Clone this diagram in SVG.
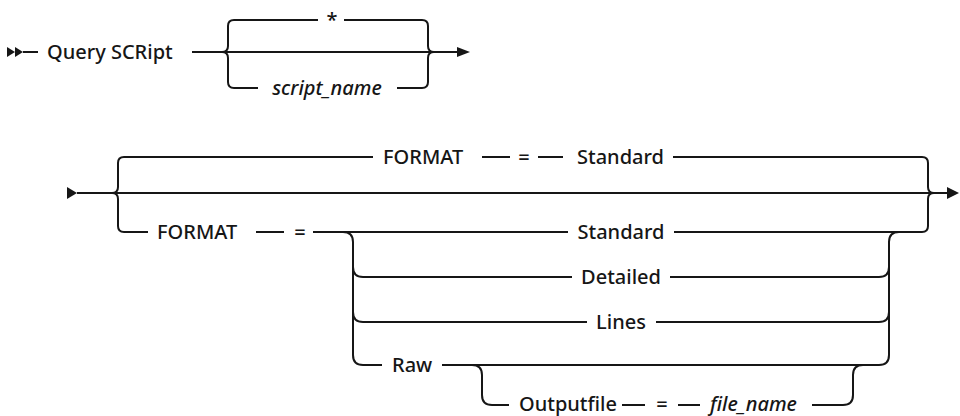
<svg xmlns="http://www.w3.org/2000/svg" width="960" height="416" viewBox="0 0 960 416">
<style>
.t { font-family: "Noto Sans", "Liberation Sans", sans-serif; font-size: 20px; font-weight: 500; fill: #161616; }
.i { font-style: italic; }
.c { text-anchor: middle; }
.ln { fill: none; stroke: #161616; stroke-width: 2; }
.ah { fill: #161616; stroke: none; }
</style>
<rect width="960" height="416" fill="#ffffff"/>
<g id="connectors">
  <!-- row 1 -->
  <polygon class="ah" points="7,47 15,52 7,57"/>
  <polygon class="ah" points="15,47 23,52 15,57"/>
  <path class="ln" d="M23,52 H38"/>
  <path class="ln" d="M192,52 H458"/>
  <path class="ln" d="M222,52 q6,0 6,-6 V26 q0,-6 6,-6 H318"/>
  <path class="ln" d="M344,20 H422 q6,0 6,6 V46 q0,6 6,6"/>
  <path class="ln" d="M222,52 q6,0 6,6 V82 q0,6 6,6 H258"/>
  <path class="ln" d="M397,88 H422 q6,0 6,-6 V58 q0,-6 6,-6"/>
  <polygon class="ah" points="457,47 470,52 457,57"/>
  <!-- row 2 -->
  <polygon class="ah" points="67,187 77,193 67,199"/>
  <path class="ln" d="M77,193 H948"/>
  <polygon class="ah" points="947,187 959,193 947,199"/>
  <path class="ln" d="M112,193 q6,0 6,-6 V163 q0,-6 6,-6 H373"/>
  <path class="ln" d="M112,193 q6,0 6,6 V226 q0,6 6,6 H148"/>
  <path class="ln" d="M482,157 H510 M538,157 H563"/>
  <path class="ln" d="M673,157 H922 q6,0 6,6 V187 q0,6 6,6"/>
  <path class="ln" d="M256,232 H284 M313,232 H568"/>
  <path class="ln" d="M674,232 H922 q6,0 6,-6 V199 q0,-6 6,-6"/>
  <!-- inner group -->
  <path class="ln" d="M343,232 q10,0 10,10 V355 q0,10 10,10 H382"/>
  <path class="ln" d="M353,267 q0,10 10,10 H572"/>
  <path class="ln" d="M353,312 q0,10 10,10 H587"/>
  <path class="ln" d="M670,277 H879 q10,0 10,-10"/>
  <path class="ln" d="M656,322 H879 q10,0 10,-10"/>
  <path class="ln" d="M442,365 H879 q10,0 10,-10 V242 q0,-10 10,-10"/>
  <!-- nested group -->
  <path class="ln" d="M472,365 q10,0 10,10 V395 q0,10 10,10 H509"/>
  <path class="ln" d="M622,405 H645 M678,405 H700"/>
  <path class="ln" d="M812,405 H843 q10,0 10,-10 V375 q0,-10 10,-10"/>
</g>
<g id="n-query"><text class="t" x="47" y="59">Query SCRipt</text></g>
<g id="n-star"><text class="t c" x="332" y="27">*</text></g>
<g id="n-script_name"><text class="t i c" x="327" y="95">script_name</text></g>
<g id="n-format-default"><text class="t" x="383" y="164">FORMAT</text></g>
<g id="n-eq-default"><text class="t c" x="524" y="164">=</text></g>
<g id="n-standard-default"><text class="t" x="577" y="164">Standard</text></g>
<g id="n-format"><text class="t" x="157" y="239">FORMAT</text></g>
<g id="n-eq"><text class="t c" x="300" y="239">=</text></g>
<g id="n-standard"><text class="t c" x="621" y="239">Standard</text></g>
<g id="n-detailed"><text class="t c" x="621" y="284">Detailed</text></g>
<g id="n-lines"><text class="t c" x="621" y="329">Lines</text></g>
<g id="n-raw"><text class="t" x="392" y="372">Raw</text></g>
<g id="n-outputfile"><text class="t" x="519" y="411">Outputfile</text></g>
<g id="n-eq-out"><text class="t c" x="662" y="411">=</text></g>
<g id="n-file_name"><text class="t i" x="710" y="411">file_name</text></g>
</svg>
